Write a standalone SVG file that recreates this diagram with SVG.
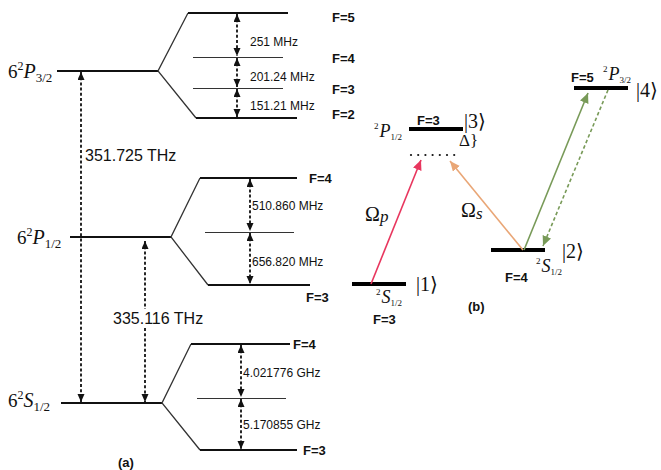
<svg xmlns="http://www.w3.org/2000/svg" width="661" height="470" viewBox="0 0 661 470">
<defs>
<marker id="ah" markerUnits="userSpaceOnUse" markerWidth="9" markerHeight="8" refX="8" refY="3.5" orient="auto-start-reverse"><path d="M0,0 L8,3.5 L0,7 z" fill="#111"/></marker>
<marker id="ar" markerUnits="userSpaceOnUse" markerWidth="11" markerHeight="10" refX="10" refY="4.5" orient="auto"><path d="M0,0 L10,4.5 L0,9 z" fill="#e8365e"/></marker>
<marker id="ao" markerUnits="userSpaceOnUse" markerWidth="11" markerHeight="10" refX="10" refY="4.5" orient="auto"><path d="M0,0 L10,4.5 L0,9 z" fill="#e9a676"/></marker>
<marker id="ag" markerUnits="userSpaceOnUse" markerWidth="11" markerHeight="10" refX="10" refY="4.5" orient="auto"><path d="M0,0 L10,4.5 L0,9 z" fill="#789a58"/></marker>
</defs>
<style>
.lvl{stroke:#111;stroke-width:2.2;fill:none}
.br{stroke:#333;stroke-width:1.3;fill:none}
.mid{stroke:#333;stroke-width:1;fill:none}
.da{stroke:#111;stroke-width:1.8;stroke-dasharray:3 2.2;fill:none;marker-start:url(#ah);marker-end:url(#ah)}
.dt{stroke:#111;stroke-width:1.8;stroke-dasharray:3 2.2;fill:none}
.hz{font-family:"Liberation Sans",Arial,sans-serif;font-size:12px;fill:#111}
.thz{font-family:"Liberation Sans",Arial,sans-serif;font-size:16px;fill:#111}
.F{font-family:"Liberation Sans",Arial,sans-serif;font-weight:bold;font-size:13px;fill:#111}
.ser{font-family:"Liberation Serif","DejaVu Serif",serif;fill:#111}
.it{font-style:italic}
.thick{stroke:#000;stroke-width:4}
</style>

<!-- Panel (a) -->
<g id="P32">
<text class="ser" x="8" y="78" font-size="19">6<tspan font-size="12" dy="-8">2</tspan><tspan class="it" dy="8" font-size="20">P</tspan><tspan font-size="13" dy="4">3/2</tspan></text>
<line class="lvl" x1="57" y1="71" x2="158" y2="71"/>
<path class="br" d="M188,13 L158,71 L196,118"/>
<line class="lvl" x1="188" y1="13" x2="288" y2="13"/>
<line class="lvl" x1="196" y1="118" x2="297" y2="118"/>
<line class="mid" x1="193" y1="57.5" x2="283" y2="57.5"/>
<line class="mid" x1="193" y1="88.5" x2="283" y2="88.5"/>
<text class="F" x="332" y="22">F=5</text>
<text class="F" x="332" y="63">F=4</text>
<text class="F" x="332" y="94">F=3</text>
<text class="F" x="332" y="119">F=2</text>
<text class="hz" x="250" y="46">251 MHz</text>
<text class="hz" x="250" y="81">201.24 MHz</text>
<text class="hz" x="250" y="110">151.21 MHz</text>
</g>

<g id="P12">
<text class="ser" x="17" y="244" font-size="19">6<tspan font-size="12" dy="-8">2</tspan><tspan class="it" dy="8" font-size="20">P</tspan><tspan font-size="13" dy="4">1/2</tspan></text>
<line class="lvl" x1="70" y1="237" x2="171" y2="237"/>
<path class="br" d="M200,178 L171,237 L208,285"/>
<line class="lvl" x1="200" y1="178" x2="297" y2="178"/>
<line class="lvl" x1="208" y1="285" x2="310" y2="285"/>
<line class="mid" x1="205" y1="232.5" x2="294" y2="232.5"/>
<text class="F" x="309" y="183">F=4</text>
<text class="F" x="306" y="302">F=3</text>
<text class="hz" x="252" y="210">510.860 MHz</text>
<text class="hz" x="252" y="266">656.820 MHz</text>
</g>

<g id="S12">
<text class="ser" x="8" y="407" font-size="19">6<tspan font-size="12" dy="-8">2</tspan><tspan class="it" dy="8" font-size="20">S</tspan><tspan font-size="13" dy="4">1/2</tspan></text>
<line class="lvl" x1="61" y1="403" x2="162" y2="403"/>
<path class="br" d="M191,344 L162,403 L200,450"/>
<line class="lvl" x1="191" y1="344" x2="290" y2="344"/>
<line class="lvl" x1="200" y1="450" x2="297" y2="450"/>
<line class="mid" x1="197" y1="398.5" x2="286" y2="398.5"/>
<text class="F" x="293" y="349">F=4</text>
<text class="F" x="303" y="455">F=3</text>
<text class="hz" x="243" y="377">4.021776 GHz</text>
<text class="hz" x="243" y="429">5.170855 GHz</text>
</g>

<g id="connectors-a">
<line class="da" x1="237" y1="14" x2="237" y2="56"/>
<line class="da" x1="237" y1="58" x2="237" y2="87"/>
<line class="da" x1="237" y1="89" x2="237" y2="117"/>
<line class="da" x1="250" y1="179" x2="250" y2="231"/>
<line class="da" x1="250" y1="233" x2="250" y2="284"/>
<line class="da" x1="241" y1="345" x2="241" y2="397"/>
<line class="da" x1="241" y1="399" x2="241" y2="449"/>
<line class="da" x1="81" y1="72" x2="81" y2="402"/>
<line class="dt" x1="145" y1="241" x2="145" y2="309" marker-start="url(#ah)"/>
<line class="dt" x1="145" y1="328" x2="145" y2="402" marker-end="url(#ah)"/>
</g>
<text class="thz" x="85" y="161">351.725 THz</text>
<text class="thz" x="113" y="324">335.116 THz</text>
<text class="F" x="118" y="467">(a)</text>

<!-- Panel (b) -->
<g id="state1">
<line class="thick" x1="352" y1="284" x2="406" y2="284"/>
<text class="ser" x="416" y="291" font-size="20">|1⟩</text>
<text class="ser" x="376" y="303" font-size="18"><tspan font-size="9" dy="-8">2</tspan><tspan class="it" dy="8" dx="1">S</tspan><tspan font-size="9" dy="3">1/2</tspan></text>
<text class="F" x="373" y="324">F=3</text>
</g>
<g id="state2">
<line class="thick" x1="491" y1="250" x2="545" y2="250"/>
<text class="ser" x="562" y="258" font-size="20">|2⟩</text>
<text class="ser" x="536" y="272" font-size="18"><tspan font-size="9" dy="-8">2</tspan><tspan class="it" dy="8" dx="1">S</tspan><tspan font-size="9" dy="3">1/2</tspan></text>
<text class="F" x="505" y="282">F=4</text>
</g>
<g id="state3">
<line class="thick" x1="409" y1="129" x2="463" y2="129"/>
<text class="F" x="417" y="125">F=3</text>
<text class="ser" x="464" y="128" font-size="20">|3⟩</text>
<text class="ser" x="374" y="137" font-size="18"><tspan font-size="9" dy="-8">2</tspan><tspan class="it" dy="8" dx="1">P</tspan><tspan font-size="9" dy="3">1/2</tspan></text>
<g fill="#111"><circle cx="411" cy="155" r="1.1"/><circle cx="418.2" cy="155" r="1.1"/><circle cx="425.4" cy="155" r="1.1"/><circle cx="432.6" cy="155" r="1.1"/><circle cx="439.8" cy="155" r="1.1"/><circle cx="447" cy="155" r="1.1"/><circle cx="454.2" cy="155" r="1.1"/></g>
<text class="ser" x="459" y="146" font-size="17">Δ}</text>
</g>
<g id="state4">
<line class="thick" x1="574" y1="88" x2="628" y2="88"/>
<text class="F" x="571" y="82">F=5</text>
<text class="ser" x="603" y="80" font-size="18"><tspan font-size="9" dy="-8">2</tspan><tspan class="it" dy="8" dx="1">P</tspan><tspan font-size="9" dy="3">3/2</tspan></text>
<text class="ser" x="636" y="97" font-size="20">|4⟩</text>
</g>

<g id="connectors-b">
<line x1="371" y1="284" x2="421" y2="160" stroke="#e8365e" stroke-width="1.6" marker-end="url(#ar)"/>
<line x1="523" y1="250" x2="450" y2="161" stroke="#e9a676" stroke-width="1.6" marker-end="url(#ao)"/>
<line x1="524" y1="250" x2="588" y2="93" stroke="#789a58" stroke-width="1.6" marker-end="url(#ag)"/>
<line x1="608" y1="90" x2="543" y2="246" stroke="#789a58" stroke-width="1.6" stroke-dasharray="3.5 2.5" marker-end="url(#ag)"/>
</g>
<text class="ser" x="365" y="221" font-size="20">Ω<tspan class="it" font-size="17" dy="1">p</tspan></text>
<text class="ser" x="461" y="217" font-size="20">Ω<tspan class="it" font-size="17" dy="2">s</tspan></text>
<text class="F" x="468" y="311">(b)</text>
</svg>
